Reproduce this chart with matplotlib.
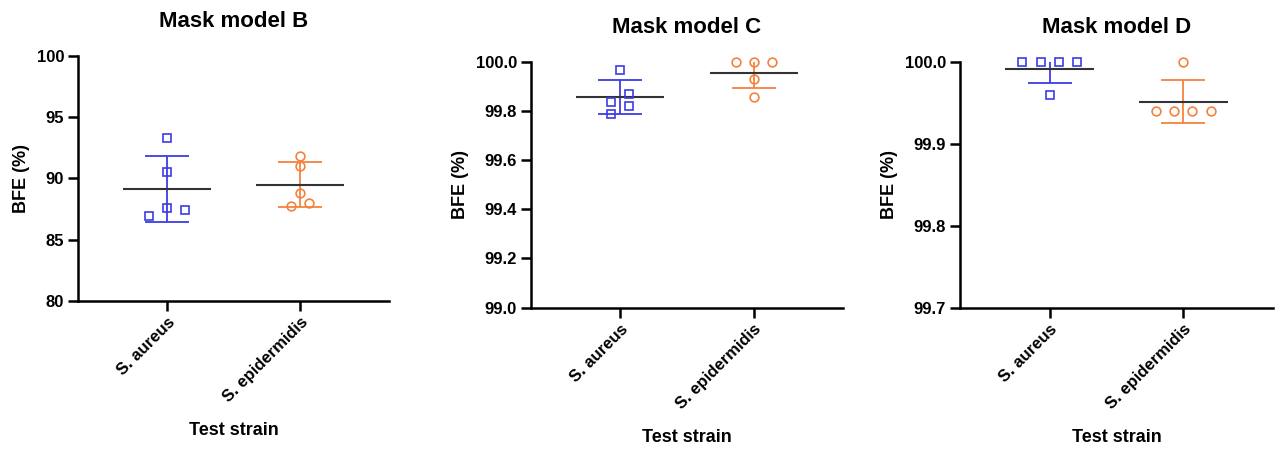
import numpy as np
import matplotlib
matplotlib.use("Agg")
import matplotlib.pyplot as plt

plt.rcParams['font.family'] = ['Liberation Sans', 'DejaVu Sans']
plt.rcParams['font.weight'] = 'bold'

strains = ['S. aureus', 'S. epidermidis']
panel_titles = ['Mask model B', 'Mask model C', 'Mask model D']

# BFE (%) per replicate
b_aureus = [93.3, 90.5, 87.6, 87.4, 86.9]
b_epid = [91.8, 91.0, 88.8, 88.0, 87.7]
c_aureus = [99.97, 99.87, 99.84, 99.82, 99.79]
c_epid = [100.0, 100.0, 100.0, 99.93, 99.86]
d_aureus = [100.0, 100.0, 100.0, 100.0, 99.96]
d_epid = [100.0, 99.94, 99.94, 99.94, 99.94]

# horizontal scatter layout (category units)
b_aureus_dx = [0, 0, 0, 0.135, -0.135]
b_epid_dx = [0, 0, 0, 0.07, -0.07]
c_aureus_dx = [0, 0.068, -0.068, 0.068, -0.068]
c_epid_dx = [-0.135, 0, 0.135, 0, 0]
d_aureus_dx = [-0.205, -0.068, 0.068, 0.205, 0]
d_epid_dx = [0, -0.205, -0.068, 0.068, 0.205]

y_limits = [(80, 100), (99.0, 100.0), (99.7, 100.0)]
y_ticks = [np.arange(80, 101, 5), np.arange(99.0, 100.01, 0.2), np.arange(99.7, 100.01, 0.1)]
y_fmt = ['{:.0f}', '{:.1f}', '{:.1f}']

blue = '#3c3ce6'
orange = '#f5823c'

panels = [
    (b_aureus, b_aureus_dx, b_epid, b_epid_dx),
    (c_aureus, c_aureus_dx, c_epid, c_epid_dx),
    (d_aureus, d_aureus_dx, d_epid, d_epid_dx),
]

W, H = 1279, 449
boxes = [(78, 389, 56, 300.7), (531, 843, 62.3, 307.5), (960, 1273, 62.3, 307.5)]

fig = plt.figure(figsize=(W / 100, H / 100), dpi=100)

for i, (aur, aur_dx, epi, epi_dx) in enumerate(panels):
    x0, x1, top, bot = boxes[i]
    ax = fig.add_axes([x0 / W, 1 - bot / H, (x1 - x0) / W, (bot - top) / H])
    groups = [(aur, aur_dx, blue, 's', 5.5), (epi, epi_dx, orange, 'o', 6.3)]
    for k, (vals, dx, col, mk, ms) in enumerate(groups):
        vals = np.array(vals)
        m = vals.mean()
        sd = vals.std(ddof=1)
        ax.errorbar(k, m, yerr=sd, fmt='none', ecolor=col, elinewidth=1.3,
                    capsize=15.8, capthick=1.3, zorder=2)
        ax.hlines(m, k - 0.33, k + 0.33, color='#333333', lw=1.5, zorder=2)
        ax.plot(k + np.array(dx), vals, linestyle='none', marker=mk, ms=ms,
                mfc='none', mec=col, mew=1.2, clip_on=False, zorder=3)

    ax.set_xlim(-0.67, 1.67)
    ax.set_ylim(*y_limits[i])
    ax.set_yticks(y_ticks[i])
    ax.set_yticklabels([y_fmt[i].format(v) for v in y_ticks[i]])
    ax.set_xticks([0, 1])
    ax.set_xticklabels(strains, rotation=45, ha='right', rotation_mode='anchor')
    ax.spines['top'].set_visible(False)
    ax.spines['right'].set_visible(False)
    for s in ['left', 'bottom']:
        ax.spines[s].set_linewidth(1.8)
    ax.tick_params(axis='both', direction='out', length=7, width=1.8,
                   labelsize=12, pad=3)
    ax.set_title(panel_titles[i], fontsize=16, fontweight='bold', pad=21)
    ax.set_ylabel('BFE (%)', fontsize=13, fontweight='bold', labelpad=5)
    ax.set_xlabel('Test strain', fontsize=13, fontweight='bold', labelpad=12)

fig.savefig('out.png', dpi=100)
